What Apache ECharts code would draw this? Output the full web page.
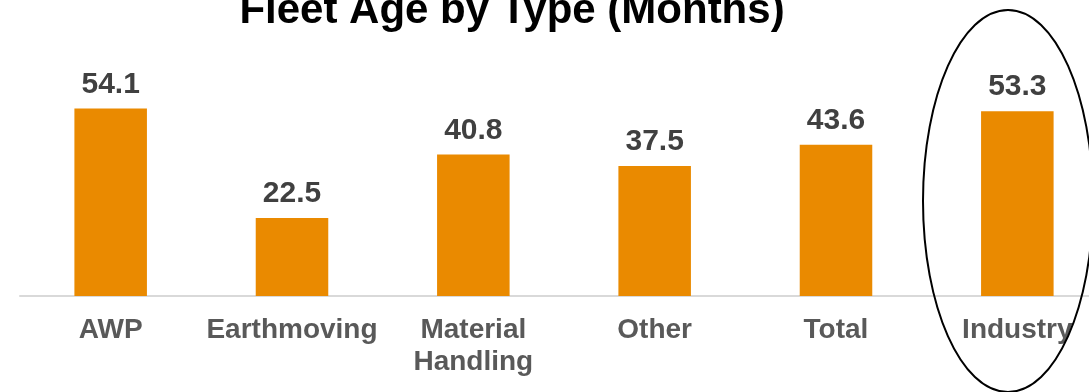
<!DOCTYPE html>
<html>
<head>
<meta charset="utf-8">
<style>
  html, body { margin: 0; padding: 0; background: #ffffff; overflow: hidden; }
  /* the plot area runs a little past the right edge of the page */
  #chart { width: 1108px; height: 392px; }
</style>
<script src="https://cdn.jsdelivr.net/npm/echarts@6/dist/echarts.min.js"></script>
</head>
<body>
<div id="chart"></div>
<script>
// Fleet age per equipment type, in months
const categories = ['AWP', 'Earthmoving', 'Material\nHandling', 'Other', 'Total', 'Industry'];
const fleetAge = [54.1, 22.5, 40.8, 37.5, 43.6, 53.3];
const chartTitle = 'Fleet Age by Type (Months)';

const FONT = '"Liberation Sans", Arial, Helvetica, sans-serif';
const chart = echarts.init(document.getElementById('chart'), null, { renderer: 'canvas' });

chart.setOption({
  animation: false,
  backgroundColor: '#ffffff',
  title: {
    text: chartTitle,
    left: 512,
    top: -10,
    padding: 0,
    textAlign: 'center',
    textStyle: { fontFamily: FONT, fontWeight: 'bold', fontSize: 42, color: '#000000' }
  },
  grid: { left: 20, right: 0, top: 88, bottom: 96, containLabel: false },
  xAxis: {
    type: 'category',
    data: categories,
    axisLine: { show: true, lineStyle: { color: '#d9d9d9', width: 2 } },
    axisTick: { show: false },
    axisLabel: {
      interval: 0,
      margin: 18,
      fontFamily: FONT,
      fontWeight: 'bold',
      fontSize: 28,
      lineHeight: 32,
      color: '#595959'
    }
  },
  yAxis: {
    type: 'value',
    min: 0,
    max: 60,
    show: false,
    splitLine: { show: false }
  },
  series: [{
    type: 'bar',
    data: fleetAge,
    barWidth: '40%',
    itemStyle: { color: '#ea8a00' },
    label: {
      show: true,
      position: 'top',
      distance: 9,
      formatter: p => p.value.toFixed(1),
      fontFamily: FONT,
      fontWeight: 'bold',
      fontSize: 30,
      color: '#404040'
    }
  }],
  graphic: [{
    type: 'ellipse',
    shape: { cx: 1008, cy: 201, rx: 85, ry: 191 },
    style: { fill: 'none', stroke: '#000000', lineWidth: 2 },
    z: 100
  }]
});
</script>
</body>
</html>
